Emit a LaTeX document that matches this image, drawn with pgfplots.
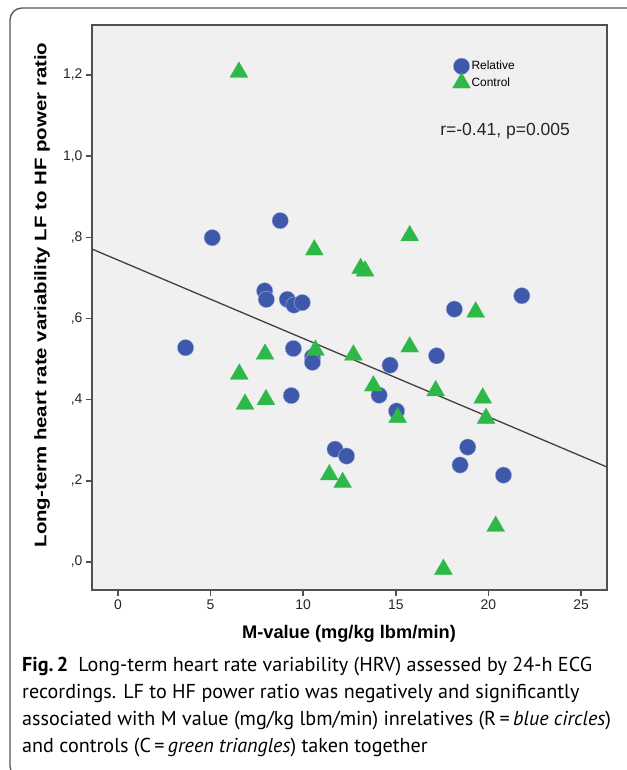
\documentclass[border=0pt]{standalone}
\usepackage{pgfplots}
\pgfplotsset{compat=1.18}
\usepackage{fontspec}
\setmainfont{Liberation Sans}
\newfontfamily\capfont{PT Sans}
\definecolor{bgGray}{HTML}{F0F0F0}
\definecolor{axGray}{HTML}{505050}
\definecolor{relBlue}{HTML}{3E58AC}
\definecolor{ctlGreen}{HTML}{2EB848}
\definecolor{frameGray}{HTML}{555555}

\begin{document}
\begin{tikzpicture}
\path[use as bounding box] (0bp,0bp) rectangle (627bp,-770bp);
% frame of the figure box (cropped at right and bottom)
\draw[frameGray, line width=1.3bp, rounded corners=12bp]
  (640bp,-8bp) -- (10bp,-8bp) -- (10bp,-778bp) -- (40bp,-778bp);

\begin{axis}[
  at={(92bp,-25bp)}, anchor=north west,
  scale only axis, width=515bp, height=565bp,
  xmin=-1.4, xmax=26.4, ymin=-0.069, ymax=1.323,
  axis background/.style={fill=bgGray},
  axis line style={draw=axGray, line width=1.6bp},
  tick align=outside, tick pos=left,
  major tick length=6bp,
  tick style={draw=axGray, line width=1.4bp},
  xtick={0,5,10,15,20,25},
  xticklabels={0,5,10,15,20,25},
  ytick={0,0.2,0.4,0.6,0.8,1.0,1.2},
  yticklabels={{,0},{,2},{,4},{,6},{,8},{1,0},{1,2}},
  ticklabel style={font=\fontsize{14}{14}\selectfont, text=black!85},
  legend style={at={(axis cs:18.05,1.242)}, anchor=north west, draw=none, fill=none,
    font=\fontsize{12}{12}\selectfont, row sep=-2bp, inner sep=0pt,
    nodes={inner sep=1bp}},
  legend image code/.code={\draw[#1] plot coordinates {(0bp,0bp)};},
  legend cell align=left,
]
\addplot[only marks, mark=*, mark size=8.2bp, fill=relBlue, draw=relBlue!45!white, line width=0.4bp]
  coordinates {
  (5.09,0.799) (8.76,0.841) (7.92,0.668) (8.01,0.647) (9.14,0.647) (9.5,0.633)
  (9.95,0.639) (21.8,0.656) (18.16,0.623) (3.65,0.528) (9.47,0.526) (10.5,0.505)
  (10.5,0.492) (17.2,0.508) (14.69,0.485) (14.1,0.411) (9.36,0.410) (15.04,0.372)
  (11.72,0.278) (12.34,0.261) (18.88,0.283) (18.47,0.239) (20.81,0.214)
  };
\addlegendentry{Relative}
\addplot[only marks, mark=triangle*, mark size=10.4bp, fill=ctlGreen, draw=ctlGreen, line width=0.2bp]
  coordinates {
  (6.53,1.207) (10.6,0.769) (15.75,0.804) (13.1,0.723) (13.34,0.717) (19.31,0.616)
  (7.94,0.512) (10.66,0.522) (12.71,0.510) (15.75,0.530) (6.55,0.463) (13.79,0.434)
  (17.15,0.422) (6.86,0.389) (7.99,0.400) (19.69,0.404) (15.1,0.356) (19.87,0.354)
  (11.41,0.215) (12.13,0.196) (20.39,0.088) (17.57,-0.018)
  };
\addlegendentry{Control}
% fitted line
\addplot[no marks, draw=black!75, line width=1.3bp, forget plot]
  coordinates {(-1.4,0.771) (26.4,0.234)};
\node[font=\fontsize{17.6}{17.6}\selectfont, text=black!85] at (axis cs:20.9,1.062) {r=-0.41, p=0.005};
\end{axis}

\node[font=\fontsize{18.3}{18.3}\selectfont\bfseries] at (349bp,-634bp) {M-value (mg/kg lbm/min)};
\node[font=\fontsize{16.8}{16.8}\selectfont\bfseries, rotate=90] at (42bp,-295bp)
  {\scalebox{1.22}[1]{Long-term heart rate variability LF to HF power ratio}};

\begin{scope}[every node/.style={anchor=base west, inner sep=0pt,
    font=\capfont\fontsize{20.2}{20.2}\selectfont}]
\node at (22bp,-671bp) {\textbf{Fig.\,2}\hspace{0.5em}Long-term heart rate variability (HRV) assessed by 24-h ECG};
\node at (22bp,-698bp) {recordings. LF to HF power ratio was negatively and significantly};
\node at (22bp,-725bp) {associated with M value (mg/kg lbm/min) inrelatives (R\,=\,\textit{blue circles})};
\node at (22bp,-752bp) {and controls (C\,=\,\textit{green triangles}) taken together};
\end{scope}
\end{tikzpicture}
\end{document}
